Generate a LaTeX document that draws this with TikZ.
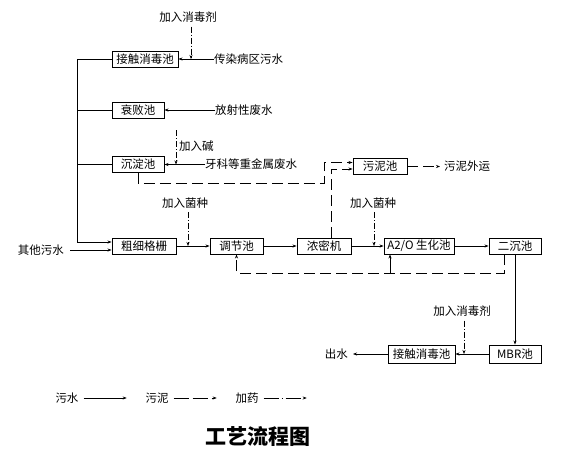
\documentclass[tikz,border=0pt]{standalone}
\usepackage{fontspec}
\setmainfont{Noto Sans CJK SC}
\usetikzlibrary{arrows.meta}
\begin{document}
\begin{tikzpicture}[x=1pt,y=-1pt, font=\fontsize{11.5}{13}\selectfont,
 box/.style={draw, line width=0.9pt, minimum height=16pt, inner sep=0pt},
 txt/.style={inner sep=0pt},
 tip/.style={-{Stealth[length=4pt,width=3pt]}},
 flow/.style={line width=0.6pt, tip},
 plain/.style={line width=0.6pt},
 sludge/.style={line width=0.6pt, dash pattern=on 11pt off 5pt},
 dose/.style={line width=0.6pt, dash pattern=on 6pt off 2pt on 1pt off 2pt, tip}]
\useasboundingbox (0,0) rectangle (571,450);
\fill[white] (0,0) rectangle (571,450);
% boxes
\node[box, minimum width=66pt] (jc1) at (145,59) {接触消毒池};
\node[box, minimum width=52pt] (sb) at (138,110) {衰败池};
\node[box, minimum width=52pt] (cd) at (138,164.5) {沉淀池};
\node[box, minimum width=64pt] (cx) at (144,246) {粗细格栅};
\node[box, minimum width=53pt] (tj) at (236.5,246) {调节池};
\node[box, minimum width=54pt] (nm) at (324,246) {浓密机};
\node[box, minimum width=70pt] (a2o) at (419,246) {A2/O 生化池};
\node[box, minimum width=52pt] (ec) at (515,246) {二沉池};
\node[box, minimum width=54pt] (wn) at (380,166.5) {污泥池};
\node[box, minimum width=52pt, minimum height=18pt] (mbr) at (515,354) {MBR池};
\node[box, minimum width=67pt, minimum height=18pt] (jc2) at (421.5,354) {接触消毒池};
% texts
\node[txt] (t1) at (188,17) {加入消毒剂};
\node[txt, anchor=west] (s1) at (214,59) {传染病区污水};
\node[txt, anchor=west] (s2) at (215,110) {放射性废水};
\node[txt, anchor=west] (s3) at (205,164.5) {牙科等重金属废水};
\node[txt, anchor=west] (t2) at (179,146) {加入碱};
\node[txt, anchor=west] (out) at (444,166.5) {污泥外运};
\node[txt] (t3) at (185,203) {加入菌种};
\node[txt] (t4) at (373,203) {加入菌种};
\node[txt, anchor=east] (s0) at (64,250) {其他污水};
\node[txt] (t5) at (462,311) {加入消毒剂};
\node[txt, anchor=east] (cs) at (348,354) {出水};
\node[txt] (l1) at (67,398) {污水};
\node[txt] (l2) at (157,398) {污泥};
\node[txt] (l3) at (247,398) {加药};
\node[txt, font=\fontsize{21}{24}\selectfont\bfseries] (title) at (258,436) {工艺流程图};
% collector
\coordinate (bus) at (77,0);
\draw[flow] (jc1.west) -- (jc1.west -| bus) |- ([yshift=4pt]cx.west);
\draw[plain] (sb.west) -- (sb.west -| bus);
\draw[plain] (cd.west) -- (cd.west -| bus);
% inputs
\draw[flow] (s1.west) -- (jc1.east);
\draw[dose] ([xshift=3pt,yshift=-4pt]t1.south) -- ([xshift=3pt]t1.south |- jc1.east);
\draw[flow] (s2.west) -- (sb.east);
\draw[flow] (s3.west) -- (cd.east);
\coordinate (a1) at (176,130);
\draw[dose] (a1) -- (a1 |- cd.east);
\draw[flow] (s0.east) ++(6pt,0) -- ([yshift=-4pt]cx.west);
% main flow
\draw[flow] (cx.east) -- (tj.west);
\draw[dose] ([xshift=3pt,yshift=-4pt]t3.south) -- ([xshift=3pt]t3.south |- cx.east);
\draw[flow] (tj.east) -- (nm.west);
\draw[flow] (nm.east) -- (a2o.west);
\draw[dose] ([xshift=1pt,yshift=-4pt]t4.south) -- ([xshift=1pt]t4.south |- a2o.west);
\draw[flow] (a2o.east) -- (ec.west);
\draw[flow] (ec.south) -- (mbr.north);
\draw[flow] (mbr.west) -- (jc2.east);
\draw[dose] ([xshift=2pt,yshift=-4pt]t5.south) -- ([xshift=2pt]t5.south |- jc2.east);
\draw[flow] (jc2.west) -- ([xshift=5pt]cs.east);
% return sludge
\coordinate (r) at (0,273);
\draw[sludge, tip] ([xshift=-11pt]ec.south) |- (r -| tj.south) -- (tj.south);
\draw[flow] (r -| 390,0) -- ([xshift=-29pt]a2o.south);
% sludge to sludge tank
\draw[sludge, tip] (cd.south) |- (324,183) |- ([yshift=4pt]wn.west);
\draw[sludge, tip] ([xshift=7pt]nm.north) |- ([yshift=-2.5pt]wn.west);
\draw[sludge, tip] (wn.east) -- ([xshift=-4pt]out.west);
% legend
\draw[flow] ([xshift=5pt]l1.east) -- ++(43,0);
\draw[sludge, tip, dash pattern=on 15pt off 4pt] ([xshift=5pt]l2.east) -- ++(43,0);
\draw[dose, dash pattern=on 15pt off 3pt on 1pt off 3pt] ([xshift=5pt]l3.east) -- ++(43,0);
\end{tikzpicture}
\end{document}
